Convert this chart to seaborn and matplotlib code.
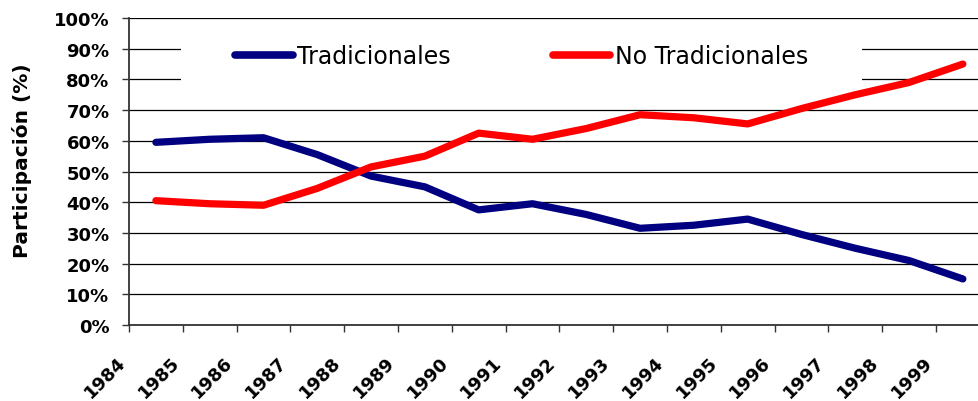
import pandas as pd
import matplotlib
matplotlib.use("Agg")
import matplotlib.pyplot as plt
import matplotlib.transforms as mtransforms
from matplotlib.patches import Rectangle
import seaborn as sns

years = [1984, 1985, 1986, 1987, 1988, 1989, 1990, 1991,
         1992, 1993, 1994, 1995, 1996, 1997, 1998, 1999]
tradicionales = [59.5, 60.5, 61.0, 55.5, 48.5, 45.0, 37.5, 39.5,
                 36.0, 31.5, 32.5, 34.5, 29.5, 25.0, 21.0, 15.0]
no_tradicionales = [40.5, 39.5, 39.0, 44.5, 51.5, 55.0, 62.5, 60.5,
                    64.0, 68.5, 67.5, 65.5, 70.5, 75.0, 79.0, 85.0]
series_names = ["Tradicionales", "No Tradicionales"]
colors = ["#000080", "#FF0000"]
y_ticks = [0, 10, 20, 30, 40, 50, 60, 70, 80, 90, 100]

# long table, x at centre of each category slot
rows = []
for name, vals in zip(series_names, [tradicionales, no_tradicionales]):
    for i, (yr, v) in enumerate(zip(years, vals)):
        rows.append({"pos": i + 0.5, "year": yr, "serie": name, "valor": v})
df = pd.DataFrame(rows)

sns.set_style("white")
plt.rcParams["font.family"] = ["DejaVu Sans"]
plt.rcParams["text.color"] = "black"
plt.rcParams["axes.labelcolor"] = "black"
plt.rcParams["xtick.color"] = "black"
plt.rcParams["ytick.color"] = "black"

fig = plt.figure(figsize=(9.79, 4.02), dpi=100)
ax = fig.add_axes([129 / 979, 76 / 402, 850 / 979, 307 / 402])

sns.lineplot(data=df, x="pos", y="valor", hue="serie", hue_order=series_names,
             palette=colors, linewidth=5.2, ax=ax, zorder=3,
             solid_capstyle="round", solid_joinstyle="round")

ax.set_xlim(0, 15.8)
ax.set_ylim(0, 100)
ax.set_yticks(y_ticks)
ax.set_yticklabels([f"{t}%" for t in y_ticks], fontsize=13, fontweight="bold")
ax.set_xticks(range(len(years)))
ax.set_xticklabels([str(y) for y in years], fontsize=13, fontweight="bold",
                   rotation=45, ha="right", va="top")
offset = mtransforms.ScaledTranslation(8 / 100, 0, fig.dpi_scale_trans)
for lab in ax.get_xticklabels():
    lab.set_transform(lab.get_transform() + offset)

ax.tick_params(axis="y", direction="out", length=5, width=1, color="#333333",
               labelcolor="black", pad=9, left=True)
ax.tick_params(axis="x", direction="out", length=5, width=1, color="#333333",
               labelcolor="black", pad=15, bottom=True)

ax.grid(axis="y", color="black", linewidth=0.9)
ax.grid(axis="x", visible=False)
for s in ["top", "right"]:
    ax.spines[s].set_visible(False)
for s in ["left", "bottom"]:
    ax.spines[s].set_color("#333333")
    ax.spines[s].set_linewidth(1.3)

ax.set_xlabel("")
ax.set_ylabel("Participación (%)", fontsize=14.5, fontweight="bold", color="black")
ax.yaxis.set_label_coords(-0.114, 0.54)

# white box behind the legend hides the gridlines
ax.add_patch(Rectangle((0.061, 0.769), 0.801, 0.195, transform=ax.transAxes,
                       facecolor="white", edgecolor="none", zorder=1))

handles, labels = ax.get_legend_handles_labels()
leg = ax.legend(handles, labels, ncol=2, frameon=False, fontsize=17,
                handlelength=2.45, handletextpad=0.2, columnspacing=4.3,
                loc="center", bbox_to_anchor=(0.462, 0.876))
for t in leg.get_texts():
    t.set_color("black")
for ln in leg.get_lines():
    ln.set_linewidth(5.5)
    ln.set_solid_capstyle("round")

fig.savefig("out.png", dpi=100)
